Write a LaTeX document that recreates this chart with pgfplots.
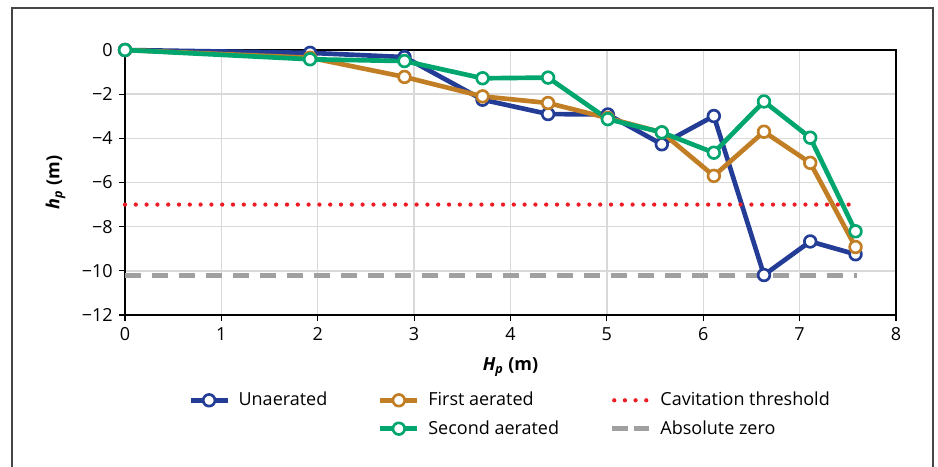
\documentclass[border=0pt]{standalone}
\usepackage{fontspec}
\setmainfont{Open Sans}
\usepackage{pgfplots}
\pgfplotsset{compat=1.18}
\definecolor{cblue}{RGB}{35,60,150}
\definecolor{corange}{RGB}{193,126,36}
\definecolor{cgreen}{RGB}{0,166,110}
\definecolor{cred}{RGB}{237,28,36}
\definecolor{cgray}{RGB}{160,160,160}
\definecolor{cgrid}{RGB}{217,217,217}
\definecolor{cframe}{RGB}{70,70,70}
\begin{document}
\fontsize{13.5}{16}\selectfont
\begin{tikzpicture}
\useasboundingbox (0,0) rectangle (703.5pt,-350.25pt);
\draw[line width=1.1pt, cframe] (9pt,-352pt) -- (9pt,-6pt) -- (699.75pt,-6pt) -- (699.75pt,-352pt);
\begin{axis}[
  at={(93.75pt,-236.25pt)}, anchor=south west,
  scale only axis, width=578.25pt, height=198.75pt,
  xmin=0, xmax=8, ymin=-12, ymax=0,
  xtick={0,1,...,8}, xticklabels={0,1,2,3,4,5,6,7,8},
  ytick={-12,-10,-8,-6,-4,-2,0},
  yticklabels={−12,−10,−8,−6,−4,−2,0},
  grid=major, grid style={cgrid, line width=1.1pt},
  tick align=outside, tick pos=left, major tick length=4.5pt,
  tick style={black, line width=0.9pt},
  axis line style={black, line width=1pt},
  clip=false,
  xlabel={\textbf{\textit{H}\textsubscript{\textit{p}} (m)}},
  ylabel={\textbf{\textit{h}\textsubscript{\textit{p}} (m)}},
  xlabel style={at={(axis description cs:0.5,-0.196)}, anchor=center},
  ylabel style={at={(axis description cs:-0.09,0.5)}, anchor=center},
  legend columns=3,
  legend cell align=left,
  legend image code/.code={\draw[mark repeat=2,mark phase=2,#1] plot coordinates {(0pt,0pt) (13.875pt,0pt) (27.75pt,0pt)};},
  legend style={at={(axis description cs:0.0817,-0.29)}, anchor=north west,
    draw=none, fill=none, inner sep=0pt, row sep=9pt,
    nodes={inner sep=0pt, anchor=west},
    /tikz/every odd column/.append style={column sep=6.5pt},
    /tikz/every even column/.append style={column sep=38pt}},
  every axis plot/.append style={line join=round},
]
% reference lines
\addplot[forget plot, cgray, line width=3.75pt, dash pattern=on 12pt off 8.25pt] coordinates {(0,-10.2) (7.6,-10.2)};
% series
\addplot[forget plot, cblue, line width=3.5pt, mark=*, mark size=4.4pt, mark options={fill=white, draw=cblue, line width=2pt, solid}] coordinates {
(0,0) (1.92,-0.13) (2.90,-0.32) (3.71,-2.25) (4.39,-2.90) (5.01,-2.92) (5.57,-4.27) (6.11,-2.99) (6.63,-10.19) (7.11,-8.67) (7.58,-9.25)};
\addplot[forget plot, corange, line width=3.5pt, mark=*, mark size=4.4pt, mark options={fill=white, draw=corange, line width=2pt, solid}] coordinates {
(0,0) (1.92,-0.35) (2.90,-1.22) (3.71,-2.10) (4.39,-2.40) (5.01,-3.08) (5.57,-3.73) (6.11,-5.70) (6.63,-3.70) (7.11,-5.11) (7.58,-8.92)};
\addplot[forget plot, cgreen, line width=3.5pt, mark=*, mark size=4.4pt, mark options={fill=white, draw=cgreen, line width=2pt, solid}] coordinates {
(0,0) (1.92,-0.42) (2.90,-0.50) (3.71,-1.28) (4.39,-1.25) (5.01,-3.13) (5.57,-3.73) (6.11,-4.65) (6.63,-2.33) (7.11,-3.97) (7.58,-8.21)};
\addplot[forget plot, cred, line width=3.2pt, line cap=round, dash pattern=on 0pt off 8.1pt] coordinates {(0,-7) (7.6,-7)};
% legend
\addlegendimage{cblue, line width=3.5pt, mark=*, mark size=4.4pt, mark options={fill=white, draw=cblue, line width=2pt, solid}}
\addlegendentry{Unaerated}
\addlegendimage{corange, line width=3.5pt, mark=*, mark size=4.4pt, mark options={fill=white, draw=corange, line width=2pt, solid}}
\addlegendentry{First aerated}
\addlegendimage{cred, line width=3.2pt, line cap=round, dash pattern=on 0pt off 8pt, dash phase=6.5pt}
\addlegendentry{Cavitation threshold}
\addlegendimage{empty legend}
\addlegendentry{}
\addlegendimage{cgreen, line width=3.5pt, mark=*, mark size=4.4pt, mark options={fill=white, draw=cgreen, line width=2pt, solid}}
\addlegendentry{Second aerated}
\addlegendimage{cgray, line width=3.75pt, dash pattern=on 12pt off 4.5pt}
\addlegendentry{Absolute zero}
\end{axis}
\end{tikzpicture}
\end{document}
